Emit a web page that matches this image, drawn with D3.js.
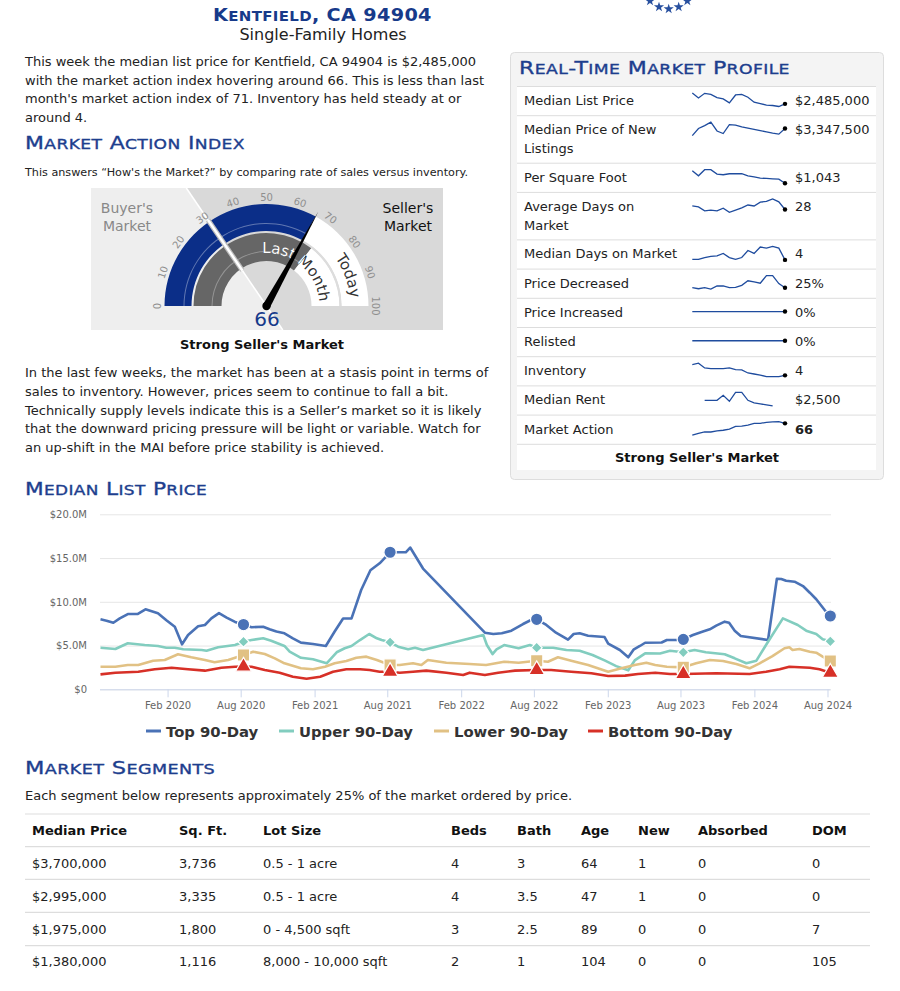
<!DOCTYPE html>
<html><head><meta charset="utf-8">
<script src="https://cdn.jsdelivr.net/npm/d3@7"></script>
<style>
html,body{margin:0;padding:0;background:#fff;}
svg{display:block;font-family:"DejaVu Sans",Verdana,sans-serif;}
</style></head><body>
<svg id="page" width="900" height="991"></svg>
<script>
// ---------------- DATA ----------------
const seriesNames = ["Top 90-Day","Upper 90-Day","Lower 90-Day","Bottom 90-Day"];
const seriesTop = [["2019-08-18",8.0],["2019-09-02",7.84],["2019-09-19",7.6],["2019-10-05",8.1],["2019-10-25",8.6],["2019-11-18",8.6],["2019-12-08",9.14],["2020-01-08",8.7],["2020-01-29",7.9],["2020-02-19",7.15],["2020-03-08",5.14],["2020-03-23",6.2],["2020-04-17",7.2],["2020-05-04",7.35],["2020-05-20",8.1],["2020-06-08",8.7],["2020-06-27",8.2],["2020-07-18",7.7],["2020-08-08",7.4],["2020-08-28",7.1],["2020-09-26",7.15],["2020-10-12",6.86],["2020-10-29",6.6],["2020-11-18",6.4],["2020-12-09",5.83],["2020-12-29",5.33],["2021-01-28",5.18],["2021-03-01",4.95],["2021-03-23",6.6],["2021-04-13",8.1],["2021-05-04",8.1],["2021-05-28",11.35],["2021-06-20",13.6],["2021-07-13",14.4],["2021-08-08",15.66],["2021-09-16",15.66],["2021-09-27",16.2],["2021-10-29",13.8],["2022-04-01",6.47],["2022-04-22",6.32],["2022-05-13",6.4],["2022-06-06",6.7],["2022-07-05",7.46],["2022-07-25",7.92],["2022-08-08",8.0],["2022-09-01",7.35],["2022-09-25",6.47],["2022-10-25",5.67],["2022-11-08",6.32],["2022-11-23",6.4],["2022-12-14",6.12],["2023-01-24",5.97],["2023-02-02",5.22],["2023-03-03",4.49],["2023-03-24",3.66],["2023-04-06",4.53],["2023-04-22",4.95],["2023-05-05",5.32],["2023-06-15",5.35],["2023-06-28",5.63],["2023-07-23",5.63],["2023-08-08",5.71],["2023-09-01",6.2],["2023-09-26",6.6],["2023-10-13",6.86],["2023-10-29",7.27],["2023-11-19",7.73],["2023-11-30",7.6],["2023-12-14",6.7],["2023-12-29",6.1],["2024-03-06",5.63],["2024-03-28",12.64],["2024-04-08",12.6],["2024-04-20",12.41],["2024-05-11",12.3],["2024-06-01",11.8],["2024-06-18",11.04],["2024-07-04",10.29],["2024-07-25",9.06],["2024-08-08",8.38]];
const seriesUpper = [["2019-08-18",4.75],["2019-09-24",4.6],["2019-10-25",5.26],["2019-12-06",5.06],["2020-01-08",4.95],["2020-01-29",4.75],["2020-02-19",4.75],["2020-03-11",4.57],["2020-04-26",4.49],["2020-05-08",4.4],["2020-06-06",4.8],["2020-07-18",5.06],["2020-08-08",5.44],["2020-08-28",5.63],["2020-09-26",5.83],["2020-10-16",5.55],["2020-11-18",4.95],["2020-12-01",4.3],["2020-12-29",3.6],["2021-01-28",3.43],["2021-03-03",2.97],["2021-03-28",4.23],["2021-04-17",4.69],["2021-05-04",4.95],["2021-05-25",5.63],["2021-06-17",6.32],["2021-07-06",5.83],["2021-07-18",5.63],["2021-08-08",5.37],["2021-08-28",4.87],["2021-09-22",4.57],["2021-10-09",4.75],["2021-10-29",4.49],["2022-03-28",6.2],["2022-04-06",5.06],["2022-04-20",4.03],["2022-04-30",4.57],["2022-05-19",5.06],["2022-06-24",4.69],["2022-07-22",5.06],["2022-08-08",4.75],["2022-09-18",4.75],["2022-10-21",4.49],["2022-11-23",4.41],["2022-12-25",3.92],["2023-01-24",3.3],["2023-02-22",2.65],["2023-03-24",2.17],["2023-04-09",3.3],["2023-05-05",4.11],["2023-06-11",4.1],["2023-07-06",4.41],["2023-08-08",4.23],["2023-09-05",4.49],["2023-10-03",4.23],["2023-11-19",4.0],["2023-12-14",3.54],["2024-01-12",2.97],["2024-02-06",3.27],["2024-03-06",5.44],["2024-04-12",8.11],["2024-05-19",7.35],["2024-06-09",6.7],["2024-07-04",6.32],["2024-07-20",5.71],["2024-08-08",5.49]];
const seriesLower = [["2019-08-18",2.58],["2019-09-24",2.58],["2019-10-25",2.78],["2019-11-20",2.78],["2019-12-27",3.27],["2020-01-25",3.35],["2020-02-27",4.0],["2020-03-31",3.66],["2020-05-04",3.35],["2020-05-28",3.09],["2020-07-01",3.35],["2020-08-08",3.92],["2020-09-01",4.3],["2020-09-30",4.03],["2020-10-25",3.54],["2020-11-18",2.97],["2020-12-29",2.4],["2021-01-28",2.29],["2021-02-27",2.58],["2021-03-23",2.97],["2021-04-21",3.23],["2021-05-16",3.61],["2021-06-10",3.73],["2021-07-06",3.35],["2021-08-08",2.78],["2021-09-01",2.78],["2021-10-04",2.97],["2021-10-25",2.78],["2021-11-10",3.35],["2021-12-26",3.04],["2022-02-22",2.89],["2022-04-04",2.78],["2022-05-19",3.15],["2022-06-24",3.04],["2022-08-08",3.27],["2022-09-05",3.15],["2022-09-30",3.66],["2022-11-02",3.27],["2022-12-14",2.78],["2023-02-02",2.01],["2023-03-07",2.4],["2023-04-09",2.78],["2023-05-08",3.04],["2023-05-30",2.78],["2023-06-28",2.58],["2023-08-08",2.51],["2023-09-09",2.97],["2023-10-13",3.35],["2023-11-15",3.23],["2023-12-18",2.89],["2024-01-20",2.4],["2024-02-14",2.97],["2024-03-17",3.8],["2024-04-16",4.69],["2024-04-28",4.8],["2024-05-06",4.49],["2024-05-23",4.6],["2024-06-18",4.3],["2024-07-04",4.18],["2024-07-20",3.73],["2024-08-08",3.23]];
const seriesBottom = [["2019-08-18",1.71],["2019-09-24",1.9],["2019-11-20",2.01],["2019-12-31",2.29],["2020-02-11",2.47],["2020-03-23",2.29],["2020-05-04",2.13],["2020-06-14",2.47],["2020-07-18",2.58],["2020-08-08",2.6],["2020-08-28",2.58],["2020-09-30",2.2],["2020-11-06",1.9],["2020-12-09",1.44],["2021-01-12",1.21],["2021-02-15",1.44],["2021-03-19",2.01],["2021-04-21",2.29],["2021-05-25",2.29],["2021-06-18",2.2],["2021-07-13",2.01],["2021-08-08",2.0],["2021-09-01",1.9],["2021-10-04",2.01],["2021-11-06",2.13],["2021-12-26",1.9],["2022-02-06",1.63],["2022-02-22",1.9],["2022-04-01",1.63],["2022-05-04",1.9],["2022-06-15",2.13],["2022-08-08",2.2],["2022-09-13",2.2],["2022-11-02",2.01],["2022-12-22",1.83],["2023-02-02",1.52],["2023-03-16",1.56],["2023-04-17",1.75],["2023-05-30",1.9],["2023-07-06",1.75],["2023-08-08",1.75],["2023-10-29",1.83],["2024-01-20",1.75],["2024-03-01",2.01],["2024-04-04",2.29],["2024-04-28",2.58],["2024-06-18",2.47],["2024-07-12",2.29],["2024-08-08",1.9]];
const markerDates = ["2020-08-08","2021-08-08","2022-08-08","2023-08-08","2024-08-08"];
const xTickDates = ["2020-02-01","2020-08-01","2021-02-01","2021-08-01","2022-02-01","2022-08-01","2023-02-01","2023-08-01","2024-02-01","2024-08-01"];
const yTicks = [0,5,10,15,20];

// gauge
const gaugeToday = 66;
const gaugeLastMonth = 71;
const gaugeSplit = 31;
const gaugeTicks = [0,10,20,30,40,50,60,70,80,90,100];

// market profile
const profileLabels = [["Median List Price"],["Median Price of New","Listings"],["Per Square Foot"],["Average Days on","Market"],["Median Days on Market"],["Price Decreased"],["Price Increased"],["Relisted"],["Inventory"],["Median Rent"],["Market Action"]];
const profileValues = ["$2,485,000","$3,347,500","$1,043","28","4","25%","0%","0%","4","$2,500","66"];
const sparkMedianList = [3145,2845,3125,3065,2865,2785,2545,3025,3065,2885,2585,2505,2405,2385,2325,2485];
const sparkNewListings = [2772,3347,3572,3847,3147,2947,3647,3622,3472,3372,3272,3172,3072,2972,2897,3347];
const sparkPerSqFt = [1191,1131,1203,1203,1151,1143,1155,1155,1155,1131,1119,1103,1099,1095,1091,1043];
const sparkAvgDom = [39,36,24,26,24,32,19,26,33,42,39,51,53,61,52,28];
const sparkMedianDom = [5,5,8,10,11,15,8,5,8,20,15,26,24,27,24,4];
const sparkPriceDecreased = [25,23.5,25,23,27.5,27.5,25,25.5,28.5,35,33.5,31.5,42.5,42.5,31,25];
const sparkPriceIncreased = [0,0,0,0,0,0,0,0,0,0,0,0,0,0,0,0];
const sparkRelisted = [0,0,0,0,0,0,0,0,0,0,0,0,0,0,0,0];
const sparkInventory = [7.2,7.6,6.2,6,6,6,6.2,5.7,5.6,4.7,4.4,4.1,3.6,3.6,3.6,4];
const sparkMedianRent = [null,null,2755,2755,2755,2980,2710,3115,3115,2755,2635,2590,2545,2500,null,null];
const sparkMarketAction = [49,51.5,53.5,53.5,55,56,57.5,61.5,62,63.5,66,66,67.5,68,68.5,66];

// market segments
const segHeaders = ["Median Price","Sq. Ft.","Lot Size","Beds","Bath","Age","New","Absorbed","DOM"];
const segPrice = ["$3,700,000","$2,995,000","$1,975,000","$1,380,000"];
const segSqft = ["3,736","3,335","1,800","1,116"];
const segLot = ["0.5 - 1 acre","0.5 - 1 acre","0 - 4,500 sqft","8,000 - 10,000 sqft"];
const segBeds = ["4","4","3","2"];
const segBath = ["3","3.5","2.5","1"];
const segAge = ["64","47","89","104"];
const segNew = ["1","1","0","0"];
const segAbsorbed = ["0","0","0","0"];
const segDom = ["0","0","7","105"];

// ---------------- DRAW ----------------
const svg = d3.select("#page");
svg.append("rect").attr("width",900).attr("height",991).attr("fill","#fff");
const HBLUE = "#1d3e8e", TXT = "#222";

function smallCaps(t, str, big, small){
  const parts = [];
  for (const c of str){
    const low = c !== c.toUpperCase();
    const sz = low ? small : big;
    if (parts.length && parts[parts.length-1].sz === sz) parts[parts.length-1].s += c.toUpperCase();
    else parts.push({s:c.toUpperCase(), sz});
  }
  parts.forEach(p => t.append("tspan").attr("font-size", p.sz).text(p.s));
}
function heading(x, y, str, big, targetW, weight, color){
  const g = svg.append("g").attr("transform",`translate(${x},${y})`);
  const t = g.append("text").attr("fill", color||HBLUE).attr("font-weight", weight||"normal").attr("letter-spacing",0.3)
    .attr("stroke", weight==="bold" ? "none" : (color||HBLUE)).attr("stroke-width", 0.35);
  smallCaps(t, str, big, big*0.78);
  const w = t.node().getComputedTextLength();
  t.attr("transform", `scale(${targetW/w},1)`);
  return g;
}
function lines(x, y0, dy, arr, size, opts={}){
  arr.forEach((s,i)=>{
    svg.append("text").attr("x",x).attr("y",y0+i*dy).attr("font-size",size)
      .attr("fill",opts.color||TXT).attr("font-weight",opts.weight||"normal")
      .attr("text-anchor",opts.anchor||"start").text(s);
  });
}

// header
heading(213, 20.5, "Kentfield, CA 94904", 17.5, 219, "bold", "#173a8a");
lines(323, 40, 0, ["Single-Family Homes"], 16, {anchor:"middle"});
[[650,1],[659,7],[668.7,9],[678.7,7],[687.3,1]].forEach(p=>{
  svg.append("path").attr("d", d3.symbol(d3.symbolStar, 32)()).attr("transform",`translate(${p[0]},${p[1]})`).attr("fill","#28509f");
});

lines(25, 66, 18.7, [
  "This week the median list price for Kentfield, CA 94904 is $2,485,000",
  "with the market action index hovering around 66. This is less than last",
  "month's market action index of 71. Inventory has held steady at or",
  "around 4."], 13);

heading(25, 148.5, "Market Action Index", 17.5, 220);
lines(25, 176, 0, ["This answers \u201cHow's the Market?\u201d by comparing rate of sales versus inventory."], 11.2);

// ---- gauge ----
const gx = 266.5, gy = 306;
const gBox = {x0:91, x1:443, y0:188, y1:330};
const ang = v => Math.PI*v/100 - Math.PI/2;
const gs = ang(gaugeSplit);
const dirX = Math.sin(gs), dirY = -Math.cos(gs);
const tTop = (gBox.y0-gy)/dirY, tBot = (gBox.y1-gy)/dirY;
const xTop = gx + tTop*dirX, xBot = gx + tBot*dirX;
svg.append("rect").attr("x",gBox.x0).attr("y",gBox.y0).attr("width",gBox.x1-gBox.x0).attr("height",gBox.y1-gBox.y0).attr("fill","#d9d9d9");
svg.append("path").attr("d",`M${gBox.x0},${gBox.y0}L${xTop},${gBox.y0}L${xBot},${gBox.y1}L${gBox.x0},${gBox.y1}Z`).attr("fill","#eeeeee");
svg.append("line").attr("x1",xTop).attr("y1",gBox.y0).attr("x2",xBot).attr("y2",gBox.y1).attr("stroke","#fff").attr("stroke-width",1.5);

const gG = svg.append("g").attr("transform",`translate(${gx},${gy})`);
const arc = d3.arc();
const OUT = [75,102], INN = [45,73];
gG.append("path").attr("d",arc({innerRadius:OUT[0],outerRadius:OUT[1],startAngle:ang(0),endAngle:ang(gaugeToday)})).attr("fill","#0b2e88");
gG.append("path").attr("d",arc({innerRadius:OUT[0],outerRadius:OUT[1],startAngle:ang(gaugeToday),endAngle:ang(100)})).attr("fill","#fff");
const grayArc = arc({innerRadius:INN[0],outerRadius:INN[1],startAngle:ang(0),endAngle:ang(gaugeLastMonth)});
gG.append("path").attr("d",grayArc).attr("fill","#666");
gG.append("path").attr("d",arc({innerRadius:INN[0],outerRadius:INN[1],startAngle:ang(gaugeLastMonth),endAngle:ang(100)})).attr("fill","#fff");
gG.append("path").attr("d",arc({innerRadius:82,outerRadius:83,startAngle:ang(0),endAngle:ang(gaugeToday)})).attr("fill","rgba(255,255,255,0.35)");
gG.append("path").attr("d",arc({innerRadius:54,outerRadius:55,startAngle:ang(0),endAngle:ang(gaugeLastMonth)})).attr("fill","rgba(255,255,255,0.3)");
gG.append("path").attr("d",arc({innerRadius:73,outerRadius:75,startAngle:ang(gaugeLastMonth),endAngle:ang(100)})).attr("fill","#ddd");
const sp = r => [r*Math.sin(gs), -r*Math.cos(gs)];
gG.append("line").attr("x1",sp(43)[0]).attr("y1",sp(43)[1]).attr("x2",sp(104)[0]).attr("y2",sp(104)[1]).attr("stroke","#bbb").attr("stroke-width",5);
gG.append("line").attr("x1",sp(43)[0]).attr("y1",sp(43)[1]).attr("x2",sp(104)[0]).attr("y2",sp(104)[1]).attr("stroke","#fff").attr("stroke-width",2.5);
gaugeTicks.forEach(v=>{
  const a = ang(v), r = 109;
  gG.append("text").attr("transform",`translate(${r*Math.sin(a)},${-r*Math.cos(a)}) rotate(${v/100*180-90})`)
    .attr("text-anchor","middle").attr("dy","0.35em").attr("font-size",10).attr("fill","#8f8f8f").text(v);
});
const defs = svg.append("defs");
function arcPath(r, v0, v1){
  const a0 = ang(v0), a1 = ang(v1);
  return `M${r*Math.sin(a0)},${-r*Math.cos(a0)} A${r},${r} 0 0 1 ${r*Math.sin(a1)},${-r*Math.cos(a1)}`;
}
defs.append("path").attr("id","lmPath").attr("d",arcPath(53,47.5,100));
defs.append("path").attr("id","tdPath").attr("d",arcPath(84,80.5,100));
defs.append("clipPath").attr("id","grayClip").append("path").attr("d",grayArc);
gG.append("text").attr("font-size",15).attr("fill","#333").append("textPath").attr("href","#lmPath").text("Last Month");
gG.append("text").attr("font-size",15).attr("fill","#fff").attr("clip-path","url(#grayClip)").append("textPath").attr("href","#lmPath").text("Last Month");
gG.append("text").attr("font-size",15).attr("fill","#333").append("textPath").attr("href","#tdPath").text("Today");
const na = ang(gaugeToday);
const tip = [108*Math.sin(na), -108*Math.cos(na)];
const perp = [Math.cos(na), Math.sin(na)];
gG.append("path").attr("d",`M${tip[0]},${tip[1]}L${3.8*perp[0]},${3.8*perp[1]}L${-3.8*perp[0]},${-3.8*perp[1]}Z`).attr("fill","#000");
gG.append("circle").attr("r",4.2).attr("fill","#000");
lines(127, 213, 18, ["Buyer's","Market"], 14, {anchor:"middle", color:"#888"});
lines(408, 213, 18, ["Seller's","Market"], 14, {anchor:"middle", color:"#111"});
lines(267, 326, 0, ["66"], 20, {anchor:"middle", color:"#173a8a"});
lines(262, 349, 0, ["Strong Seller's Market"], 13, {anchor:"middle", weight:"bold", color:"#111"});

lines(25, 377, 18.8, [
  "In the last few weeks, the market has been at a stasis point in terms of",
  "sales to inventory. However, prices seem to continue to fall a bit.",
  "Technically supply levels indicate this is a Seller\u2019s market so it is likely",
  "that the downward pricing pressure will be light or variable. Watch for",
  "an up-shift in the MAI before price stability is achieved."], 13);

// ---- Market profile panel ----
svg.append("rect").attr("x",510.5).attr("y",52.5).attr("width",373).attr("height",427).attr("rx",4).attr("fill","#f4f4f4").attr("stroke","#ddd");
heading(519, 73.5, "Real-Time Market Profile", 17.5, 271);
svg.append("rect").attr("x",517).attr("y",86).attr("width",359).attr("height",384).attr("fill","#fff");
const sparks = [sparkMedianList,sparkNewListings,sparkPerSqFt,sparkAvgDom,sparkMedianDom,sparkPriceDecreased,sparkPriceIncreased,sparkRelisted,sparkInventory,sparkMedianRent,sparkMarketAction];
const sx = d3.scaleLinear().domain([0,15]).range([692.3,785]);
let rowTop = 86;
profileLabels.forEach((lab,i)=>{
  const h = 29.2 + (lab.length-1)*18.3;
  svg.append("line").attr("x1",517).attr("x2",876).attr("y1",rowTop+0.5).attr("y2",rowTop+0.5).attr("stroke","#ddd");
  lab.forEach((s,j)=> svg.append("text").attr("x",524).attr("y",rowTop+19+j*19).attr("font-size",13).attr("fill",TXT).text(s));
  svg.append("text").attr("x",795).attr("y",rowTop+19).attr("font-size",13).attr("fill",TXT)
    .attr("font-weight", i===profileLabels.length-1?"bold":"normal").text(profileValues[i]);
  const data = sparks[i];
  const ext = d3.extent(data.filter(d=>d!==null));
  const sy = d3.scaleLinear().domain(ext).range([rowTop+20.5, rowTop+7]);
  const ln = d3.line().defined(d=>d!==null).x((d,k)=>sx(k)).y(d=>sy(d));
  svg.append("path").attr("d",ln(data)).attr("fill","none").attr("stroke","#1f4c9e").attr("stroke-width",1.3);
  if (data[data.length-1]!==null)
    svg.append("circle").attr("cx",sx(15)).attr("cy",sy(data[15])).attr("r",2.2).attr("fill","#000");
  rowTop += h;
});
svg.append("line").attr("x1",517).attr("x2",876).attr("y1",rowTop+0.5).attr("y2",rowTop+0.5).attr("stroke","#ddd");
lines(697, 462, 0, ["Strong Seller's Market"], 13, {anchor:"middle", weight:"bold", color:"#111"});

// ---- Median List Price chart ----
heading(25, 494.5, "Median List Price", 17.5, 182);
const parse = d3.timeParse("%Y-%m-%d");
const x = d3.scaleTime().domain([parse("2019-08-18"), parse("2024-08-08")]).range([100.5, 830.3]);
const y = d3.scaleLinear().domain([0,20]).range([689.3,514.3]);
const ch = svg.append("g");
ch.append("g").attr("transform","translate(100,0)")
  .call(d3.axisLeft(y).tickValues(yTicks).tickSize(-731).tickFormat(d=> d===0?"$0":"$"+d.toFixed(1)+"M"))
  .call(g=>{g.select(".domain").remove();
    g.selectAll(".tick line").attr("stroke","#e6e6e6");
    g.selectAll(".tick text").attr("x",-13).attr("fill","#666").attr("font-size",10).attr("font-family","DejaVu Sans");});
ch.append("g").attr("transform","translate(0,689.3)")
  .call(d3.axisBottom(x).tickValues(xTickDates.map(parse)).tickSize(8).tickPadding(5).tickFormat(d3.timeFormat("%b %Y")))
  .call(g=>{g.select(".domain").attr("stroke","#ccd6eb").attr("d","M100,0.5H830.3");
    g.selectAll(".tick line").attr("stroke","#ccd6eb");
    g.selectAll(".tick text").attr("fill","#666").attr("font-size",10).attr("font-family","DejaVu Sans");});
const colors = ["#4a72b6","#82cdbf","#e1c184","#d73027"];
const allSeries = [seriesTop, seriesUpper, seriesLower, seriesBottom];
const symbols = [d3.symbolCircle, d3.symbolSquare, d3.symbolSquare, d3.symbolTriangle];
const symSizes = [120, 60, 150, 110];
const symRot = [0, 45, 0, 0];
const line = d3.line().x(d=>x(parse(d[0]))).y(d=>y(d[1]));
allSeries.forEach((s,i)=>{
  ch.append("path").attr("d",line(s)).attr("fill","none").attr("stroke",colors[i]).attr("stroke-width",2.6).attr("stroke-linejoin","round");
});
allSeries.forEach((s,i)=>{
  markerDates.forEach(md=>{
    const p = s.find(d=>d[0]===md);
    if(!p) return;
    ch.append("path").attr("d",d3.symbol(symbols[i], symSizes[i])())
      .attr("transform",`translate(${x(parse(p[0]))},${y(p[1])}) rotate(${symRot[i]})`)
      .attr("fill",colors[i]).attr("stroke","#fff").attr("stroke-width",1.2);
  });
});
const legX = [146,279,434,588];
seriesNames.forEach((n,i)=>{
  svg.append("line").attr("x1",legX[i]).attr("x2",legX[i]+15).attr("y1",731).attr("y2",731).attr("stroke",colors[i]).attr("stroke-width",3);
  svg.append("text").attr("x",legX[i]+20).attr("y",736.5).attr("font-size",14.8).attr("font-weight","bold").attr("fill","#333").text(n);
});

// ---- Market segments ----
heading(25, 773.5, "Market Segments", 17.5, 190);
lines(25, 800, 0, ["Each segment below represents approximately 25% of the market ordered by price."], 13);
const colX = [32,179,263,451,517,581,638,698,812];
const segCols = [segPrice,segSqft,segLot,segBeds,segBath,segAge,segNew,segAbsorbed,segDom];
[814,846.7,879.3,912.3,945.7].forEach(yy=> svg.append("line").attr("x1",25).attr("x2",870).attr("y1",yy).attr("y2",yy).attr("stroke","#ddd").attr("stroke-width",1.2));
segHeaders.forEach((h,i)=> svg.append("text").attr("x",colX[i]).attr("y",835).attr("font-size",13).attr("font-weight","bold").attr("fill","#111").text(h));
const rowY = [867.5,900.5,933.5,966.3];
segCols.forEach((col,i)=> col.forEach((v,r)=> svg.append("text").attr("x",colX[i]).attr("y",rowY[r]).attr("font-size",13).attr("fill",TXT).text(v)));
</script>
</body></html>
